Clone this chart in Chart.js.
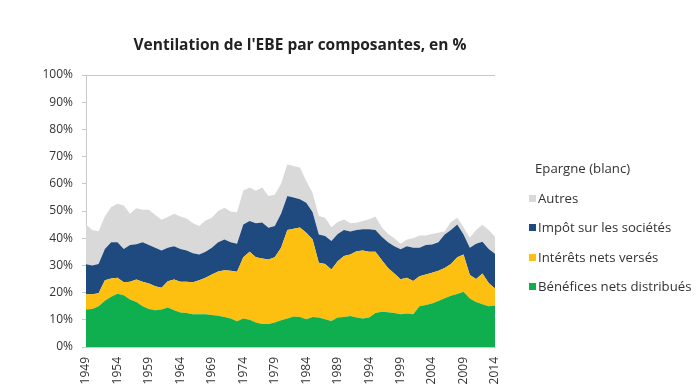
<!DOCTYPE html>
<html lang="fr">
<head>
<meta charset="UTF-8">
<title>Ventilation de l'EBE par composantes</title>
<script src="https://cdn.jsdelivr.net/npm/chart.js@4.4.8/dist/chart.umd.min.js"></script>
<style>
  body { margin: 0; background: #fff; font-family: "Open Sans", Lato, sans-serif; }
  #wrap { position: relative; width: 696px; height: 385px; }
  #title { position: absolute; left: 100px; width: 400px; top: 33px; text-align: center;
           font-weight: bold; font-size: 15.5px; color: #222; }
  #legend { position: absolute; left: 529px; top: 159px; font-size: 13.2px; color: #333; }
  #legend div { height: 29.6px; white-space: nowrap; }
  #legend span { display: inline-block; width: 7px; height: 7px; margin-right: 2px; vertical-align: 1px; }
</style>
</head>
<body>
<div id="wrap">
  <canvas id="chart" width="696" height="385"></canvas>
  <div id="title">Ventilation de l'EBE par composantes, en %</div>
  <div id="legend"></div>
</div>
<script>
    const years = [];
    for (let y = 1949; y <= 2014; y++) years.push(String(y));

    // parts de l'EBE, en %
    const benefices = [13.8, 14.0, 15.0, 17.0, 18.5, 19.6, 19.0, 17.5, 16.5, 15.0,
        14.0, 13.5, 13.8, 14.5, 13.5, 12.7, 12.5, 12.0, 12.0, 12.0,
        11.8, 11.5, 11.0, 10.5, 9.5, 10.5, 10.0, 9.0, 8.5, 8.5,
        9.0, 9.8, 10.5, 11.2, 11.0, 10.2, 11.0, 10.8, 10.2, 9.6,
        10.8, 11.0, 11.4, 10.8, 10.5, 10.8, 12.5, 13.0, 12.8, 12.5,
        12.0, 12.3, 12.0, 15.0, 15.4, 16.0, 16.9, 17.9, 18.8, 19.5,
        20.3, 17.8, 16.5, 15.7, 15.0, 15.3];
    const interets = [5.6, 5.4, 4.8, 7.5, 6.7, 5.9, 4.8, 6.5, 8.3, 9.0,
        9.3, 8.8, 8.0, 9.7, 11.3, 11.3, 11.5, 11.8, 12.5, 13.5,
        14.9, 16.3, 17.2, 17.5, 18.2, 22.5, 25.0, 24.0, 24.0, 23.7,
        24.0, 26.7, 32.5, 32.3, 32.9, 31.8, 28.6, 20.2, 20.3, 18.9,
        20.7, 22.5, 22.6, 24.4, 25.0, 24.2, 22.5, 19.0, 16.2, 14.5,
        12.9, 13.2, 12.3, 11.0, 11.3, 11.3, 11.1, 11.1, 11.7, 13.5,
        13.7, 8.7, 8.5, 11.3, 8.5, 6.2];
    const impot = [11.0, 10.6, 10.7, 11.5, 13.3, 13.0, 12.2, 13.5, 13.0, 14.5,
        14.2, 14.2, 13.7, 12.3, 12.2, 12.0, 11.5, 10.7, 9.5, 9.5,
        9.8, 10.7, 11.3, 10.5, 10.3, 12.0, 11.3, 12.5, 13.3, 11.6,
        11.5, 12.5, 12.5, 11.5, 10.4, 11.0, 10.0, 10.4, 10.3, 10.5,
        10.0, 9.5, 8.5, 7.8, 7.8, 8.3, 8.0, 8.5, 9.5, 10.0,
        11.0, 11.5, 12.2, 10.5, 10.8, 10.4, 10.5, 12.4, 12.5, 12.0,
        7.4, 10.0, 13.0, 11.7, 12.5, 12.8];
    const autres = [14.6, 13.0, 12.1, 12.0, 13.0, 14.2, 16.0, 11.5, 13.2, 12.0,
        13.0, 12.0, 11.3, 11.3, 12.0, 12.0, 11.7, 11.0, 10.5, 11.5,
        11.0, 11.5, 11.7, 11.3, 11.5, 12.5, 12.3, 11.9, 12.8, 11.7,
        11.5, 11.0, 11.7, 11.5, 11.7, 8.0, 7.1, 6.8, 6.7, 5.0,
        4.5, 3.9, 3.0, 2.7, 3.0, 3.7, 5.0, 3.5, 3.0, 3.0,
        2.1, 2.5, 3.5, 4.5, 3.5, 3.8, 3.5, 1.2, 3.0, 2.5,
        2.6, 3.7, 5.0, 6.2, 7.0, 6.2];

    const series = [
        { label: 'Bénéfices nets distribués', data: benefices, color: '#0fae4f' },
        { label: 'Intérêts nets versés', data: interets, color: '#fdc010' },
        { label: 'Impôt sur les sociétés', data: impot, color: '#1f4a80' },
        { label: 'Autres', data: autres, color: '#d9d9d9' }
    ];

    const font = { family: '"Open Sans", Lato, sans-serif', size: 12 };

    new Chart(document.getElementById('chart'), {
        type: 'line',
        data: {
            labels: years,
            datasets: series.map((s, i) => ({
                label: s.label,
                data: s.data,
                backgroundColor: s.color,
                borderColor: s.color,
                borderWidth: 0,
                pointRadius: 0,
                fill: i === 0 ? 'origin' : '-1',
                tension: 0
            }))
        },
        options: {
            responsive: false,
            animation: false,
            layout: { padding: { top: 75, right: 201, left: 0, bottom: 0 } },
            plugins: { legend: { display: false }, tooltip: { enabled: false } },
            scales: {
                x: {
                    offset: false,
                    grid: { display: false },
                    border: { display: true, color: '#c8c8c8' },
                    ticks: {
                        autoSkip: false,
                        maxRotation: 90,
                        minRotation: 90,
                        color: '#333',
                        font: font,
                        padding: 2,
                        callback: function (v, i) { return (i % 5 === 0) ? years[i] : null; }
                    },
                    afterFit: function (axis) { axis.height = 38; }
                },
                y: {
                    stacked: true,
                    min: 0,
                    max: 100,
                    grid: {
                        drawOnChartArea: true,
                        color: (c) => (c.tick && c.tick.value === 100) ? '#c8c8c8' : 'rgba(0,0,0,0)',
                        tickColor: '#c8c8c8',
                        tickLength: 4
                    },
                    border: { display: true, color: '#c8c8c8' },
                    ticks: {
                        stepSize: 10,
                        color: '#333',
                        font: font,
                        padding: 9,
                        callback: (v) => v + '%'
                    },
                    afterFit: function (axis) { axis.width = 86; }
                }
            }
        }
    });

    // légende à droite
    const legend = document.getElementById('legend');
    legend.innerHTML = '<div style="padding-left:6px">Epargne (blanc)</div>' +
        series.slice().reverse().map(s =>
            '<div><span style="background:' + s.color + '"></span>' + s.label + '</div>').join('');
</script>
</body>
</html>
